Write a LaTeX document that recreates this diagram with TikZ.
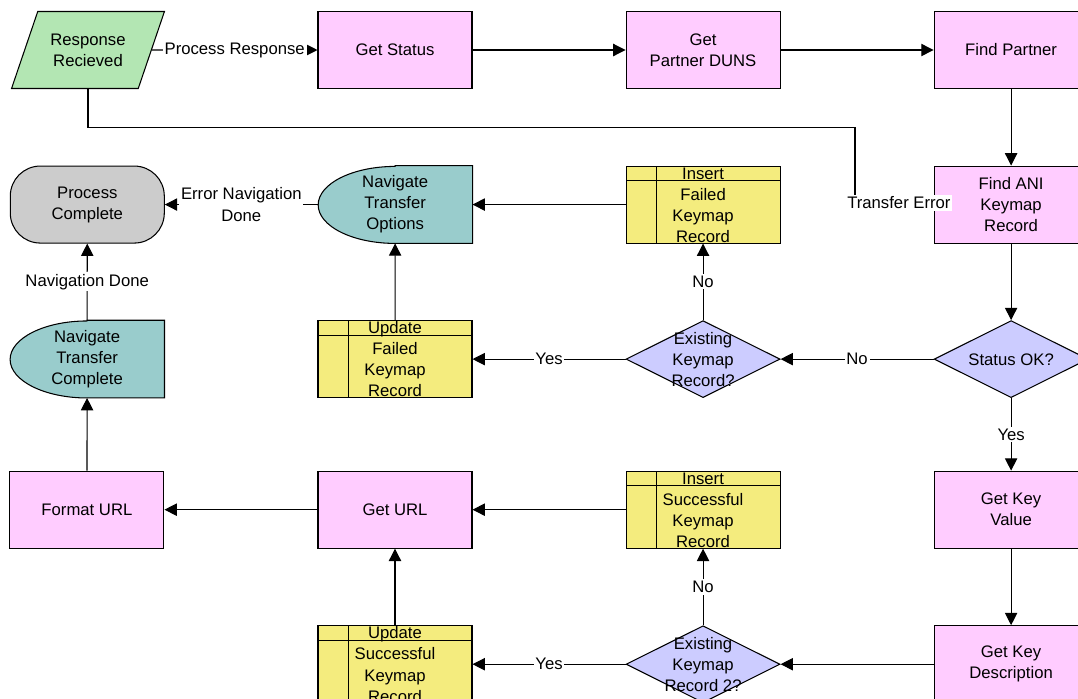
\documentclass[tikz,border=0pt]{standalone}
\usepackage{fontspec}
\setmainfont{Liberation Sans}
\usetikzlibrary{positioning, shapes.geometric, arrows.meta, backgrounds}
\newcommand{\stacktext}[1]{\smash{\makebox[0pt]{\raisebox{-3.4pt}{\begin{tabular}{@{}c@{}}#1\end{tabular}}}}}

\begin{document}
\begin{tikzpicture}[node distance = 1.53cm and 3.06cm, font=\fontsize{9.5}{12}\selectfont]
        \definecolor{colorproc}{HTML}{FFCCFF}
        \definecolor{colorevent}{HTML}{B3E6B3}
        \definecolor{colornav}{HTML}{99CCCC}
        \definecolor{colorend}{HTML}{CCCCCC}
        \definecolor{colordata}{HTML}{F4EC7E}
        \definecolor{colordecide}{HTML}{CCCCFF}
        \tikzset{process/.style={draw,
                align=center,
                line width = 0.6pt,
                fill = colorproc,
                minimum width = 3.08cm,
                minimum height = 1.54cm
        }}
        \tikzset{event/.style={draw,
                trapezium,
                trapezium left angle = 63,
                trapezium right angle = 117,
                trapezium stretches = true,
                align=center,
                line width = 0.6pt,
                fill = colorevent,
                minimum width = 3.08cm,
                minimum height = 1.54cm
        }}
        \tikzset{terminal/.style={draw,
                align=center,
                line width = 0.6pt,
                fill = colorend,
                rounded corners = 0.6cm,
                minimum width = 3.08cm,
                minimum height = 1.54cm
        }}
        \tikzset{navigate/.style={
                align=center,
                minimum width = 3.08cm,
                minimum height = 1.54cm
        }}
        \tikzset{navshape/.style={draw, line width = 0.6pt, fill = colornav}}
        \tikzset{datastep/.style={draw,
                line width = 0.6pt,
                fill = colordata,
                inner sep = 0pt,
                minimum width = 3.08cm,
                minimum height = 1.54cm,
                path picture = {
                        \draw[line width = 0.6pt] ([yshift=-0.29cm]path picture bounding box.north west) -- ([yshift=-0.29cm]path picture bounding box.north east);
                        \draw[line width = 0.6pt] ([xshift=0.61cm]path picture bounding box.north west) -- ([xshift=0.61cm]path picture bounding box.south west);
                }
        }}
        \tikzset{decision/.style={draw,
                diamond,
                line width = 0.6pt,
                fill = colordecide,
                inner sep = 0pt,
                minimum width = 3.08cm,
                minimum height = 1.54cm
        }}
        \tikzset{elabel/.style={fill=white, inner sep=1pt, align=center}}
        \tikzset{connector/.style={-{Triangle[length=7pt, width=7pt]}, line width = 0.6pt}}

        \useasboundingbox (0,0) rectangle (21.56,-13.96);

        % top row
        \node[event] (rr) at (1.76,-1.0) {Response\\Recieved};
        \node[process] (gs) at (7.9,-1.0) {Get Status};
        \node[process, right=of gs] (gpd) {Get\\Partner DUNS};
        \node[process, right=of gpd] (fp) {Find Partner};
        \draw[connector] (rr) -- node[elabel] {Process Response} (gs);
        \draw[connector] (gs) -- (gpd);
        \draw[connector] (gpd) -- (fp);

        % right column
        \node[process, below=of fp] (fak) {Find ANI\\Keymap\\Record};
        \node[decision, below=of fak] (sok) {\stacktext{Status OK?}};
        \node[process, below=1.45cm of sok] (gkv) {Get Key\\Value};
        \node[process, below=of gkv] (gkd) {Get Key\\Description};
        \draw[connector] (fp) -- (fak);
        \draw[connector] (fak) -- (sok);
        \draw[connector] (sok) -- node[elabel] {Yes} (gkv);
        \draw[connector] (gkv) -- (gkd);

        % failed keymap branch
        \node[datastep, left=of fak] (ifk) {\stacktext{Insert\\Failed\\Keymap\\Record}};
        \node[navigate, left=of ifk] (nto) {Navigate\\Transfer\\Options};
        \node[terminal, left=of nto] (pc) {Process\\Complete};
        \node[decision, left=of sok] (ekr) {\stacktext{Existing\\Keymap\\Record?}};
        \node[datastep, left=of ekr] (ufk) {\stacktext{Update\\Failed\\Keymap\\Record}};
        \node[navigate, left=of ufk] (ntc) {Navigate\\Transfer\\Complete};
        \draw[connector] (sok) -- node[elabel] {No} (ekr);
        \draw[connector] (ekr) -- node[elabel] {No} (ifk);
        \draw[connector] (ekr) -- node[elabel] {Yes} (ufk);
        \draw[connector] (ifk) -- (nto);
        \draw[connector] (ufk) -- (nto);
        \draw[connector] (nto) -- node[elabel] {Error Navigation\\Done} (pc);
        \draw[connector] (ntc) -- node[elabel] {Navigation Done} (pc);

        % successful keymap branch
        \node[datastep, left=of gkv] (isk) {\stacktext{Insert\\Successful\\Keymap\\Record}};
        \node[process, left=of isk] (gurl) {Get URL};
        \node[process, left=of gurl] (furl) {Format URL};
        \node[decision, left=of gkd] (ekr2) {\stacktext{Existing\\Keymap\\Record 2?}};
        \node[datastep, left=of ekr2] (usk) {\stacktext{Update\\Successful\\Keymap\\Record}};
        \draw[connector] (gkd) -- (ekr2);
        \draw[connector] (ekr2) -- node[elabel] {No} (isk);
        \draw[connector] (ekr2) -- node[elabel] {Yes} (usk);
        \draw[connector] (isk) -- (gurl);
        \draw[connector] (usk) -- (gurl);
        \draw[connector] (gurl) -- (furl);
        \draw[connector] (furl) -- (ntc);

        % transfer error
        \coordinate (te) at (17.1,-4.06);
        \draw[line width = 0.6pt] (rr.center |- rr.south) -- ++(0,-0.76) -| (te) node[elabel, anchor=west, xshift=-0.2cm] {Transfer Error};

        \begin{scope}[on background layer]
                \foreach \n in {nto, ntc}
                        \draw[navshape] (\n.north) -- (\n.north east) -- (\n.south east) -- (\n.south) arc[start angle=270, end angle=90, x radius=1.54cm, y radius=0.77cm] -- cycle;
        \end{scope}
\end{tikzpicture}
\end{document}
